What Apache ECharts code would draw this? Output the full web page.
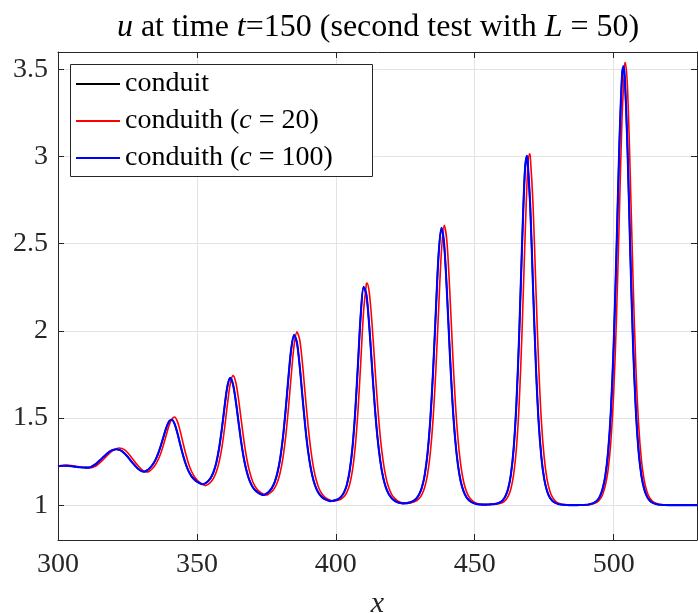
<!DOCTYPE html>
<html><head><meta charset="utf-8">
<script src="https://cdn.jsdelivr.net/npm/echarts@6/dist/echarts.min.js"></script>
<style>html,body{margin:0;padding:0;background:#fff}#c{width:698px;height:613px}</style>
</head><body><div id="c"></div>
<script>
// sample positions (x) for conduit and conduith (c = 100)
const xGrid = [
300,301,302,303,304,305,306,307,308,309,
310,311,312,313,314,315,316,317,318,319,
320,321,322,323,324,325,326,327,328,329,
330,331,332,333,334,335,336,337,338,339,
340,341,342,343,344,345,346,347,348,349,
350,351,352,353,354,355,356,357,358,359,
360,361,362,363,364,365,366,367,368,369,
370,371,372,373,374,375,376,377,378,379,
380,381,382,383,384,385,386,387,388,389,
390,391,392,393,394,395,396,397,398,399,
400,401,402,403,404,405,406,407,408,409,
410,411,412,413,414,415,416,417,418,419,
420,421,422,423,424,425,426,427,428,429,
430,431,432,433,434,435,436,437,438,439,
440,441,442,443,444,445,446,447,448,449,
450,451,452,453,454,455,456,457,458,459,
460,461,462,463,464,465,466,467,468,468.7,469,
470,471,472,473,474,475,476,477,478,479,
480,481,482,483,484,485,486,487,488,489,
490,491,492,493,494,495,496,497,498,499,
500,501,502,503,503.5,504,505,506,507,508,509,
510,511,512,513,514,515,516,517,518,520,525,530
];
const c100U = [
1.223,1.225,1.226,1.226,1.225,1.223,1.221,1.219,1.217,1.216,
1.215,1.215,1.220,1.229,1.241,1.256,1.271,1.286,1.300,1.311,
1.318,1.321,1.318,1.310,1.296,1.279,1.259,1.240,1.222,1.206,
1.196,1.192,1.199,1.212,1.231,1.257,1.294,1.341,1.394,1.445,
1.481,1.490,1.465,1.412,1.348,1.287,1.235,1.195,1.167,1.148,
1.135,1.126,1.120,1.125,1.137,1.157,1.191,1.245,1.328,1.440,
1.571,1.684,1.730,1.692,1.596,1.474,1.356,1.259,1.189,1.139,
1.106,1.085,1.072,1.063,1.058,1.066,1.078,1.099,1.132,1.187,
1.270,1.393,1.557,1.743,1.904,1.977,1.933,1.797,1.621,1.451,
1.312,1.210,1.140,1.094,1.065,1.046,1.035,1.028,1.023,1.025,
1.029,1.036,1.050,1.075,1.119,1.199,1.332,1.540,1.817,2.100,
2.253,2.209,2.034,1.800,1.572,1.387,1.254,1.161,1.102,1.065,
1.042,1.027,1.018,1.013,1.010,1.011,1.013,1.018,1.025,1.038,
1.062,1.103,1.174,1.295,1.487,1.766,2.111,2.438,2.591,2.496,
2.219,1.884,1.588,1.371,1.225,1.133,1.079,1.046,1.027,1.016,
1.010,1.006,1.004,1.003,1.003,1.004,1.005,1.006,1.009,1.015,
1.027,1.050,1.093,1.174,1.323,1.582,1.978,2.476,2.899,3.005,2.987,
2.708,2.244,1.804,1.477,1.273,1.151,1.083,1.044,1.024,1.013,
1.007,1.004,1.002,1.001,1.000,1.000,1.000,1.000,1.001,1.001,
1.002,1.004,1.008,1.014,1.026,1.049,1.092,1.168,1.304,1.539,
1.914,2.444,3.038,3.460,3.520,3.460,3.038,2.444,1.914,1.539,1.304,
1.168,1.092,1.049,1.026,1.014,1.008,1.004,1.002,1.001,1.000,1.000,1.000
];
const conduitU = [
1.223,1.225,1.226,1.226,1.225,1.223,1.221,1.219,1.217,1.216,
1.215,1.215,1.220,1.229,1.241,1.256,1.271,1.286,1.300,1.311,
1.318,1.321,1.318,1.310,1.296,1.279,1.259,1.240,1.222,1.206,
1.196,1.192,1.199,1.212,1.231,1.257,1.294,1.341,1.394,1.445,
1.481,1.490,1.465,1.412,1.348,1.287,1.235,1.195,1.167,1.148,
1.135,1.126,1.120,1.125,1.137,1.157,1.191,1.245,1.328,1.440,
1.571,1.684,1.729,1.692,1.596,1.474,1.356,1.259,1.189,1.139,
1.106,1.085,1.072,1.063,1.058,1.066,1.078,1.099,1.132,1.187,
1.270,1.393,1.557,1.743,1.904,1.975,1.933,1.797,1.621,1.451,
1.312,1.210,1.140,1.094,1.065,1.046,1.035,1.028,1.023,1.025,
1.029,1.036,1.050,1.075,1.119,1.199,1.332,1.540,1.817,2.102,
2.250,2.205,2.034,1.800,1.572,1.387,1.254,1.161,1.102,1.065,
1.042,1.027,1.018,1.013,1.010,1.011,1.013,1.018,1.025,1.038,
1.062,1.103,1.174,1.295,1.487,1.766,2.113,2.440,2.586,2.490,
2.219,1.884,1.588,1.371,1.225,1.133,1.079,1.046,1.027,1.016,
1.010,1.006,1.004,1.003,1.003,1.004,1.005,1.006,1.009,1.015,
1.027,1.050,1.093,1.174,1.323,1.582,1.978,2.478,2.905,2.998,2.975,
2.700,2.244,1.804,1.477,1.273,1.151,1.083,1.044,1.024,1.013,
1.007,1.004,1.002,1.001,1.000,1.000,1.000,1.000,1.001,1.001,
1.002,1.004,1.008,1.014,1.026,1.049,1.092,1.168,1.304,1.539,
1.914,2.444,3.040,3.465,3.512,3.445,3.030,2.444,1.914,1.539,1.304,
1.168,1.092,1.049,1.026,1.014,1.008,1.004,1.002,1.001,1.000,1.000,1.000
];
// sample positions (x) and values for conduith (c = 20)
const redX = [
300,301,302,303,304,305,306,307,308,309,
310,311,312,313,314,315,316,317,318,319,
320,321,322,323,324,325,326,327,328,329,
330,331,332,333,334,335,336,337,338,339,
340,341,342,343,344,345,346,347,348,349,
350,351,352,353,354,355,356,357,358,359,
360,361,362,363,364,365,366,367,368,369,
370,371,372,373,374,375,376,377,378,379,
380,381,382,383,384,385,386,387,388,389,
390,391,392,393,394,395,396,397,398,399,
400,401,402,403,404,405,406,407,408,409,
410,411,411.2,412,413,414,415,416,417,418,419,
420,421,422,423,424,425,426,427,428,429,
430,431,432,433,434,435,436,437,438,439,
440,441,442,443,444,445,446,447,448,449,
450,451,452,453,454,455,456,457,458,459,
460,461,462,463,464,465,466,467,468,469,469.7,
470,471,472,473,474,475,476,477,478,479,
480,481,482,483,484,485,486,487,488,489,
490,491,492,493,494,495,496,497,498,499,
500,501,502,503,504,504.2,505,506,507,508,509,
510,511,512,513,514,515,516,517,518,520,525,530
];
const c20U = [
1.224,1.227,1.229,1.230,1.229,1.227,1.224,1.221,1.219,1.217,
1.216,1.215,1.215,1.220,1.229,1.242,1.257,1.273,1.289,1.304,
1.316,1.324,1.328,1.325,1.317,1.302,1.284,1.263,1.242,1.223,
1.206,1.195,1.190,1.196,1.210,1.230,1.259,1.298,1.348,1.404,
1.458,1.495,1.506,1.479,1.424,1.357,1.293,1.238,1.196,1.166,
1.145,1.130,1.119,1.112,1.119,1.133,1.155,1.191,1.248,1.332,
1.447,1.581,1.696,1.743,1.704,1.606,1.482,1.362,1.262,1.190,
1.139,1.106,1.085,1.072,1.063,1.058,1.066,1.078,1.099,1.133,
1.189,1.274,1.399,1.566,1.755,1.919,1.994,1.949,1.811,1.632,
1.459,1.317,1.213,1.141,1.094,1.065,1.046,1.035,1.028,1.023,
1.025,1.029,1.036,1.050,1.075,1.120,1.201,1.336,1.547,1.828,
2.114,2.270,2.275,2.225,2.048,1.811,1.580,1.392,1.257,1.162,1.102,
1.065,1.042,1.027,1.018,1.013,1.010,1.011,1.013,1.018,1.025,
1.038,1.062,1.103,1.175,1.298,1.492,1.774,2.122,2.452,2.606,
2.510,2.231,1.893,1.594,1.374,1.227,1.134,1.079,1.046,1.027,
1.016,1.010,1.006,1.004,1.003,1.003,1.004,1.005,1.006,1.009,
1.015,1.027,1.050,1.093,1.175,1.325,1.585,1.983,2.483,2.909,3.016,
2.998,2.718,2.251,1.808,1.479,1.274,1.151,1.083,1.044,1.024,
1.013,1.007,1.004,1.002,1.001,1.000,1.000,1.000,1.000,1.000,
1.001,1.003,1.005,1.009,1.017,1.032,1.060,1.112,1.202,1.366,
1.640,2.067,2.636,3.215,3.530,3.540,3.387,2.877,2.281,1.790,1.459,
1.257,1.142,1.077,1.041,1.022,1.012,1.006,1.003,1.002,1.000,1.000,1.000
];
const seriesNames = ['conduit', 'conduith (c = 20)', 'conduith (c = 100)'];
const seriesColors = ['#000000', '#ff0000', '#0000ff'];
const xRange = [300, 530];
const yRange = [0.8, 3.6];

const FONT = 'Liberation Serif';
const AX = '#262626';
const FS = 28;
const TFS = 32;

function pairs(xs, ys) { return xs.map((x, i) => [x, ys[i]]); }

const chart = echarts.init(document.getElementById('c'), null, {renderer: 'canvas'});

const baseAxis = {
  type: 'value',
  axisLine: {show: true, onZero: false, lineStyle: {color: AX, width: 1}},
  axisTick: {show: true, inside: true, length: 6, lineStyle: {color: AX, width: 1}},
};

const option = {
  backgroundColor: '#ffffff',
  animation: false,
  title: {
    text: '{i|u}{n| at time }{i|t}{n|=150 (second test with }{i|L}{n| = 50)}',
    left: 373, top: 5, textAlign: 'center',
    textStyle: {
      fontFamily: FONT, fontSize: TFS, fontWeight: 'normal', color: '#000',
      rich: {
        n: {fontFamily: FONT, fontSize: TFS, fontWeight: 'normal', color: '#000', lineHeight: 36},
        i: {fontFamily: FONT, fontSize: TFS, fontWeight: 'normal', color: '#000', fontStyle: 'italic', lineHeight: 36}
      }
    }
  },
  grid: {left: 58, right: 1, top: 52, bottom: 73, containLabel: false, outerBoundsMode: 'none'},
  xAxis: [
    Object.assign({}, baseAxis, {
      position: 'bottom', min: xRange[0], max: xRange[1], splitNumber: 5,
      axisLabel: {show: true, margin: 11, fontFamily: FONT, fontSize: FS, color: AX, showMaxLabel: false},
      splitLine: {show: true, lineStyle: {color: '#e3e3e3', width: 1}},
      name: 'x', nameLocation: 'middle', nameGap: 49,
      nameTextStyle: {fontFamily: FONT, fontSize: 30, fontStyle: 'italic', color: AX}
    }),
    Object.assign({}, baseAxis, {
      position: 'top', min: xRange[0], max: xRange[1], splitNumber: 5,
      axisLabel: {show: false}, splitLine: {show: false}
    })
  ],
  yAxis: [
    Object.assign({}, baseAxis, {
      position: 'left', min: yRange[0], max: yRange[1], splitNumber: 6,
      axisLabel: {show: true, margin: 10, fontFamily: FONT, fontSize: FS, color: AX,
                  showMinLabel: false, showMaxLabel: false},
      splitLine: {show: true, lineStyle: {color: '#e3e3e3', width: 1}}
    }),
    Object.assign({}, baseAxis, {
      position: 'right', min: yRange[0], max: yRange[1], splitNumber: 6,
      axisLabel: {show: false}, splitLine: {show: false}
    })
  ],
  legend: {
    orient: 'vertical', left: 71, top: 64,
    padding: [5, 10, 5, 5], itemGap: 7, itemWidth: 44, itemHeight: 2,
    icon: 'rect',
    data: seriesNames,
    z: 10,
    formatter: function (name) {
      if (name === seriesNames[0]) return '{n|conduit}';
      const m = name.match(/\(c = (\d+)\)/);
      return '{n|conduith (}{i|c}{n| = ' + m[1] + ')}';
    },
    textStyle: {
      fontFamily: FONT, fontSize: FS, color: '#000', lineHeight: 30,
      rich: {
        n: {fontFamily: FONT, fontSize: FS, color: '#000', lineHeight: 30},
        i: {fontFamily: FONT, fontSize: FS, color: '#000', fontStyle: 'italic', lineHeight: 30}
      }
    }
  },
  graphic: [{
    type: 'rect', z: 5, silent: true,
    shape: {x: 70.5, y: 64.5, width: 302, height: 112},
    style: {fill: '#ffffff', stroke: AX, lineWidth: 1}
  }],
  series: [
    {name: seriesNames[0], type: 'line', data: pairs(xGrid, conduitU), symbol: 'none', smooth: 0.3,
     lineStyle: {color: seriesColors[0], width: 1.6}, itemStyle: {color: seriesColors[0]}, z: 2},
    {name: seriesNames[1], type: 'line', data: pairs(redX, c20U), symbol: 'none', smooth: 0.3,
     lineStyle: {color: seriesColors[1], width: 1.6}, itemStyle: {color: seriesColors[1]}, z: 3},
    {name: seriesNames[2], type: 'line', data: pairs(xGrid, c100U), symbol: 'none', smooth: 0.3,
     lineStyle: {color: seriesColors[2], width: 2.1}, itemStyle: {color: seriesColors[2]}, z: 4}
  ]
};
chart.setOption(option);
</script>
</body></html>
